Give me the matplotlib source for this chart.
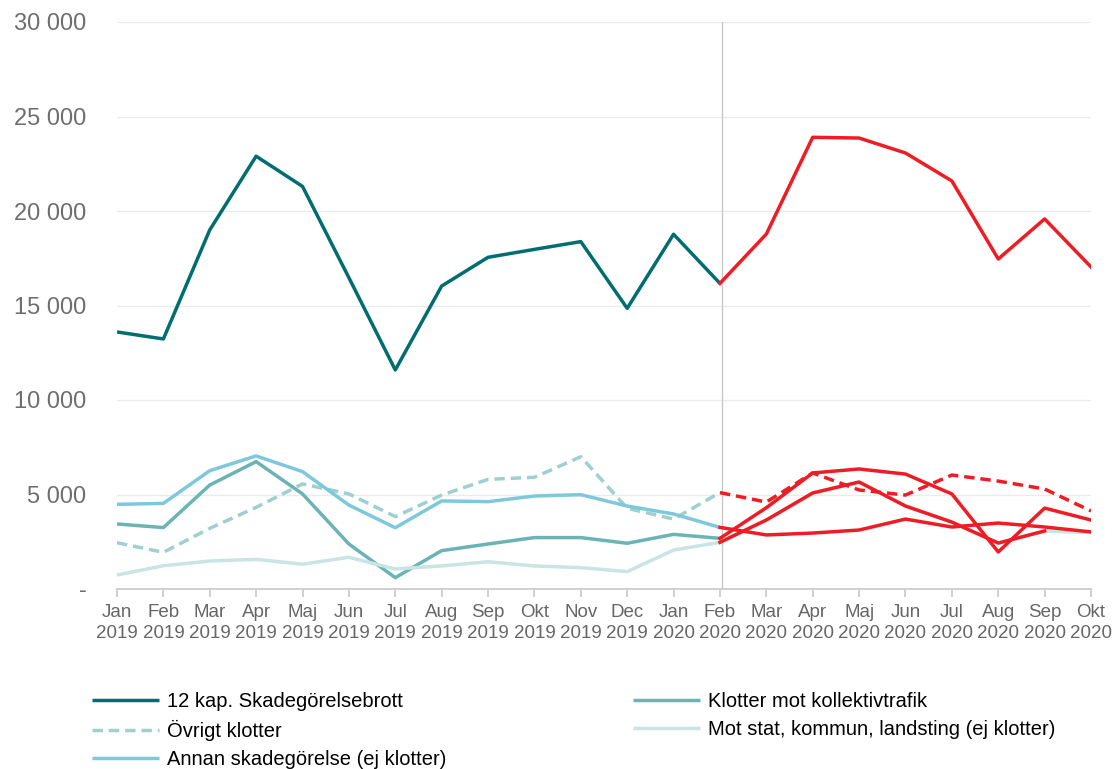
import matplotlib.pyplot as plt
from matplotlib.ticker import FuncFormatter

plt.rcParams['font.family'] = ['Liberation Sans', 'DejaVu Sans']

# Data
manader = ["Jan", "Feb", "Mar", "Apr", "Maj", "Jun", "Jul", "Aug", "Sep", "Okt", "Nov", "Dec",
           "Jan", "Feb", "Mar", "Apr", "Maj", "Jun", "Jul", "Aug", "Sep", "Okt"]
ar = ["2019"] * 12 + ["2020"] * 10

skadegorelse = [13600, 13230, 19000, 22900, 21300, 16470, 11590, 16030, 17550, 17970, 18380, 14850,
                18770, 16170, 18780, 23900, 23860, 23070, 21590, 17460, 19580, 17040]
kollektiv = [3440, 3250, 5500, 6740, 5030, 2380, 600, 2030, 2380, 2720, 2720, 2420,
             2890, 2680, 4300, 6140, 6350, 6080, 5030, 1960, 4280, 3650]
ovrigt = [2450, 1940, 3210, 4320, 5560, 5030, 3830, 4970, 5800, 5910, 7000, 4270,
          3700, 5100, 4600, 6140, 5240, 4970, 6030, 5710, 5290, 4130]
mot_stat = [740, 1230, 1480, 1570, 1310, 1680, 1060, 1220, 1440, 1220, 1130, 920,
            2060, 2470, 3650, 5080, 5660, 4390, 3540, 2430, 3070, 2980]
annan = [4480, 4530, 6260, 7040, 6210, 4440, 3240, 4660, 4620, 4920, 4990, 4390,
         3970, 3260, 2860, 2960, 3120, 3700, 3280, 3490, 3280, 3020]

namn = ["12 kap. Skadegörelsebrott", "Klotter mot kollektivtrafik", "Övrigt klotter",
        "Mot stat, kommun, landsting (ej klotter)", "Annan skadegörelse (ej klotter)"]

# Feb 2020 - where the red part starts
start_rod = 13
streck = [3.0, 1.7]

serier = [
    (skadegorelse, namn[0], "#006d70", "-", start_rod + 1, len(manader)),
    (kollektiv, namn[1], "#6cb3b5", "-", start_rod + 1, len(manader)),
    (ovrigt, namn[2], "#9fcfcf", "--", start_rod + 1, len(manader)),
    (mot_stat, namn[3], "#c8e4e4", "-", len(manader), len(manader) - 1),
    (annan, namn[4], "#7ec8dc", "-", start_rod + 1, len(manader)),
]

fig = plt.figure(figsize=(11.12, 7.69), dpi=100)
ax = fig.add_axes([117 / 1112, 1 - 589 / 769, 974 / 1112, 567 / 769])

x = list(range(len(manader)))
linjer = {}
for varden, etikett, farg, stil, slut, _ in serier:
    l, = ax.plot(x[:slut], varden[:slut], color=farg, lw=2.5, ls=stil, label=etikett,
                 solid_capstyle="butt", dash_capstyle="butt")
    if stil == "--":
        l.set_dashes(streck)
    linjer[etikett] = l

# red overlay from Feb 2020
for varden, etikett, farg, stil, _, rod_slut in serier:
    r, = ax.plot(x[start_rod:rod_slut], varden[start_rod:rod_slut], color="#ee1c25", lw=2.5, ls=stil,
                 zorder=5, dash_capstyle="butt")
    if stil == "--":
        r.set_dashes(streck)

ax.axvline(start_rod + 0.05, color="#c8c8c8", lw=1, zorder=1)

ax.set_xlim(0, len(manader) - 1)
ax.set_ylim(0, 30000)
ax.set_yticks(range(0, 30001, 5000))
ax.yaxis.set_major_formatter(FuncFormatter(lambda v, p: "-" if v == 0 else f"{int(v):,}".replace(",", " ")))
ax.set_xticks(x)
ax.set_xticklabels([f"{m}\n{a}" for m, a in zip(manader, ar)])

ax.grid(axis="y", color="#ebebeb", lw=1)
ax.set_axisbelow(True)
for s in ["top", "right", "left"]:
    ax.spines[s].set_visible(False)
ax.spines["bottom"].set_color("#cccccc")
ax.spines["bottom"].set_linewidth(1.3)
ax.tick_params(axis="y", length=0, pad=22, labelsize=17, labelcolor="#6e6e6e")
ax.tick_params(axis="x", length=6, width=1.3, color="#cccccc", pad=5, labelsize=13.5,
               labelcolor="#666666")
for t in ax.get_xticklabels():
    t.set_linespacing(1.3)

ordning = [namn[0], namn[2], namn[4], namn[1], namn[3]]
fig.legend([linjer[n] for n in ordning], ordning, ncol=2, loc="upper left",
           bbox_to_anchor=(84 / 1112, 1 - 684 / 769), frameon=False, fontsize=14.5,
           handlelength=3.3, handletextpad=0.4, columnspacing=9.3, labelspacing=0.45,
           borderaxespad=0)

fig.savefig("out.png", dpi=100)
